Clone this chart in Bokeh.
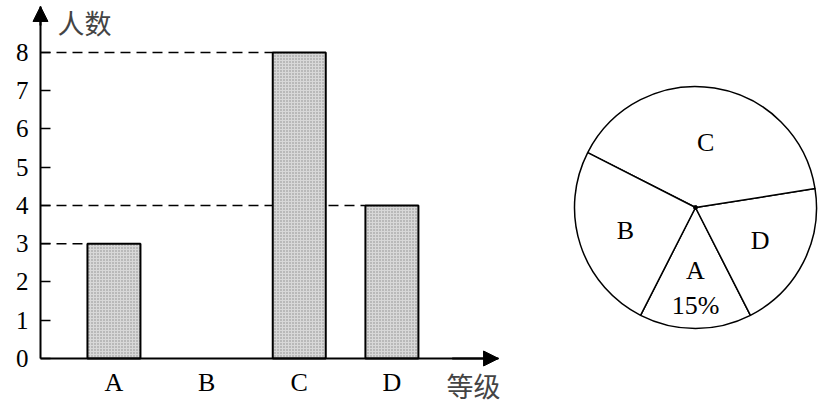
import math
from bokeh.plotting import figure
from bokeh.models import Range1d, FixedTicker, Arrow, NormalHead, Label, ColumnDataSource
from bokeh.layouts import row
from bokeh.core.properties import value
from bokeh.embed import file_html
from bokeh.resources import INLINE

# ---- data ----
categories = ["A", "B", "C", "D"]
bar_counts = [3, None, 8, 4]          # B's bar is left blank in the chart
pie_counts = [3, 5, 8, 4]             # A, B, C, D
y_ticks = [0, 1, 2, 3, 4, 5, 6, 7, 8]
y_title = "人数"
x_title = "等级"
pie_order = ["A", "D", "C", "B"]      # counter-clockwise from A

SERIF = "Liberation Serif"
CJK = "Noto Sans CJK SC"

# ---- bar chart ----
W1, H1 = 553, 406
x0, x1 = -0.2245, 5.744      # frame x range
y0, y1 = -1.255, 9.359       # frame y range
ax_x = 0.2072                # where the y axis stands
ax_x_end = 5.151             # x-axis arrow tip
ax_y_end = 9.203             # y-axis arrow tip
bw = 0.572

p = figure(width=W1, height=H1, output_backend="svg", toolbar_location=None,
           x_range=Range1d(x0, x1), y_range=Range1d(y0, y1), min_border=0)
p.outline_line_color = None
p.grid.grid_line_color = None
p.background_fill_color = "white"
p.border_fill_color = "white"

xs = [i + 1 for i, v in enumerate(bar_counts) if v is not None]
tops = [v for v in bar_counts if v is not None]
src = ColumnDataSource(dict(x=xs, top=tops, left=[x - bw / 2 for x in xs],
                            x0=[ax_x] * len(xs)))

# dashed guide lines
p.segment(x0="x0", y0="top", x1="left", y1="top", source=src,
          line_color="black", line_width=1.6, line_dash="10 6")

p.vbar(x="x", top="top", width=bw, bottom=0, source=src,
       fill_color="#d8d8d8", line_color="black", line_width=2,
       hatch_pattern="dot", hatch_color="#8a8a8a", hatch_scale=3, hatch_weight=1)

xa = p.xaxis[0]
xa.fixed_location = 0
xa.bounds = (ax_x, ax_x_end)
xa.ticker = FixedTicker(ticks=[i + 1 for i in range(len(categories))])
xa.major_label_overrides = {i + 1: c for i, c in enumerate(categories)}
xa.major_tick_in = 0
xa.major_tick_out = 0
xa.minor_tick_line_color = None
xa.axis_line_width = 2
xa.major_label_standoff = 10
xa.major_label_text_font_size = "26px"

ya = p.yaxis[0]
ya.fixed_location = ax_x
ya.bounds = (0, ax_y_end)
ya.ticker = FixedTicker(ticks=y_ticks)
ya.major_tick_in = 10
ya.major_tick_out = 0
ya.major_tick_line_width = 1.5
ya.minor_tick_line_color = None
ya.axis_line_width = 2
ya.major_label_standoff = 12
ya.major_label_text_font_size = "25px"

for ax in (xa, ya):
    ax.major_label_text_font = SERIF
    ax.major_label_text_color = "black"
    ax.axis_line_color = "black"

head = dict(size=15, fill_color="black", line_color="black")
p.add_layout(Arrow(end=NormalHead(**head), x_start=ax_x, y_start=ax_y_end - 0.5,
                   x_end=ax_x, y_end=ax_y_end, line_width=2))
p.add_layout(Arrow(end=NormalHead(**head), x_start=ax_x_end - 0.5, y_start=0,
                   x_end=ax_x_end, y_end=0, line_width=2))

p.add_layout(Label(x=0.682, y=8.784, text=y_title, text_font=CJK,
                   text_font_size="27px", text_baseline="middle", text_align="center"))
p.add_layout(Label(x=4.881, y=-0.706, text=x_title, text_font=CJK,
                   text_font_size="27px", text_baseline="middle", text_align="center"))

# ---- pie chart ----
W2, H2 = 825 - W1, 406
cx, cy, r = 142, 207, 121
q = figure(width=W2, height=H2, output_backend="svg", toolbar_location=None,
           x_range=Range1d(-cx / r, (W2 - cx) / r),
           y_range=Range1d(-(H2 - cy) / r, cy / r),
           min_border=0)
q.axis.visible = False
q.grid.grid_line_color = None
q.outline_line_color = None
q.background_fill_color = "white"
q.border_fill_color = "white"

total = sum(pie_counts)
share = {c: v / total for c, v in zip(categories, pie_counts)}
start = -math.pi / 2 - math.pi * share["A"]
starts, ends, mids = [], [], []
for c in pie_order:
    a = 2 * math.pi * share[c]
    starts.append(start)
    ends.append(start + a)
    mids.append(start + a / 2)
    start += a

q.wedge(x=0, y=0, radius=1, start_angle=starts, end_angle=ends,
        fill_color="white", line_color="black", line_width=1.5)
q.scatter(x=[0], y=[0], size=4, color="black")

lab_r = {"A": 0.52, "B": 0.61, "C": 0.54, "D": 0.60}
texts = list(pie_order)
tx = [lab_r[c] * math.cos(m) for c, m in zip(pie_order, mids)]
ty = [lab_r[c] * math.sin(m) for c, m in zip(pie_order, mids)]
ia = pie_order.index("A")
texts.append(f"{round(share['A'] * 100)}%")
tx.append(0.81 * math.cos(mids[ia]))
ty.append(0.81 * math.sin(mids[ia]))
q.text(x=tx, y=ty, text=texts, text_font=value(SERIF), text_font_size="26px",
       text_align="center", text_baseline="middle", text_color="black")

layout = row(p, q)
open("out.html", "w").write(file_html(layout, INLINE))
